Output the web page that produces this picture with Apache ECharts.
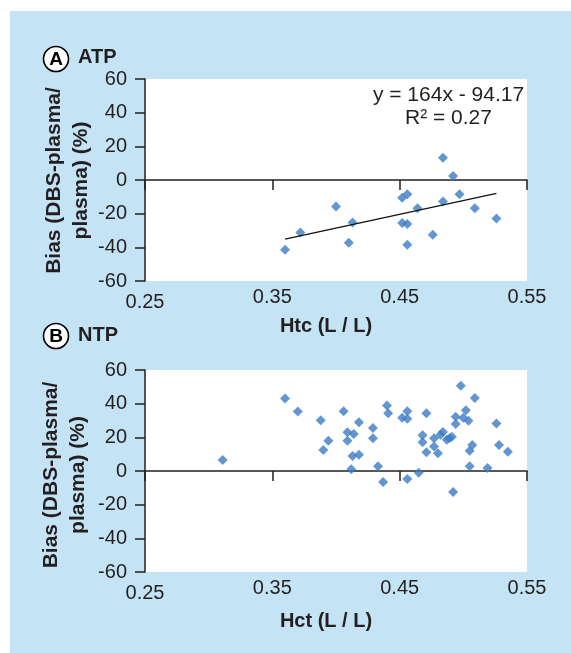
<!DOCTYPE html>
<html>
<head>
<meta charset="utf-8">
<script src="https://cdn.jsdelivr.net/npm/echarts@6/dist/echarts.min.js"></script>
<style>
html,body{margin:0;padding:0;background:#fff;}
#c{width:571px;height:653px;}
</style>
</head>
<body>
<div id="c"></div>
<script>
// Panel A: ATP
var atpHct = [0.360,0.372,0.400,0.413,0.410,0.452,0.456,0.452,0.456,0.456,0.464,0.476,0.484,0.484,0.492,0.497,0.509,0.526];
var atpBias = [-41.4,-31.2,-15.8,-25.2,-37.3,-10.5,-8.5,-25.6,-26.2,-38.5,-16.8,-32.5,13.2,-12.8,2.4,-8.5,-16.8,-22.9];
var trendSlope = 164, trendIntercept = -94.17;
var eqText = 'y = 164x - 94.17';
var r2Text = 'R\u00b2 = 0.27';

// Panel B: NTP
var ntpHct = [0.311,0.360,0.370,0.388,0.390,0.394,0.406,0.409,0.409,0.414,0.418,0.413,0.418,0.412,0.429,0.429,0.433,0.437,0.440,0.441,0.452,0.456,0.456,0.456,0.465,0.468,0.468,0.471,0.471,0.477,0.477,0.480,0.482,0.484,0.487,0.489,0.491,0.492,0.494,0.494,0.498,0.500,0.502,0.504,0.505,0.507,0.505,0.509,0.519,0.526,0.528,0.535];
var ntpBias = [6.5,43.1,35.3,30.2,12.5,17.9,35.5,23.0,17.9,22.0,29.0,8.9,9.7,1.0,25.6,19.4,2.8,-6.5,38.9,34.3,31.7,35.5,31.0,-4.8,-1.0,21.2,17.1,34.3,11.1,19.4,14.5,10.5,21.6,23.2,18.5,19.4,20.4,-12.5,32.3,27.9,50.6,31.7,36.1,29.8,12.1,15.5,2.8,43.3,1.8,28.2,15.5,11.5];

var xTicks = [0.25,0.35,0.45,0.55];
var yTicks = [-60,-40,-20,0,20,40,60];

var FONT = '"Liberation Sans", Arial, Helvetica, sans-serif';
var TXT = '#231f20';
var BLUE = '#c4e4f5';
var MARK = '#3c7cc6';

function zip(a,b){ return a.map(function(v,i){ return [v,b[i]]; }); }
var trendX = [Math.min.apply(null, atpHct), Math.max.apply(null, atpHct)];
var trendData = trendX.map(function(x){ return [x, trendSlope*x + trendIntercept]; });

function lineAxis(grid, yIdx){
  return {
    type:'value', gridIndex:grid, position:'bottom',
    min:xTicks[0], max:xTicks[xTicks.length-1], interval:0.1,
    axisLine:{show:true, onZero:true, onZeroAxisIndex:yIdx, lineStyle:{color:TXT, width:1.5}},
    axisTick:{show:true, length:10, lineStyle:{color:TXT, width:1.5}},
    axisLabel:{show:false}, splitLine:{show:false}
  };
}
function labelAxis(grid){
  return {
    type:'value', gridIndex:grid, position:'bottom',
    min:xTicks[0], max:xTicks[xTicks.length-1], interval:0.1,
    axisLine:{show:false, onZero:false}, axisTick:{show:false}, splitLine:{show:false},
    axisLabel:{show:true, margin:6, color:TXT, fontFamily:FONT, fontSize:20,
      formatter:function(v){ var s = v.toFixed(2); return Math.abs(v - xTicks[0]) < 1e-6 ? '{lo|' + s + '}' : s; },
      rich:{lo:{color:TXT, fontFamily:FONT, fontSize:20, padding:[5,0,0,0]}}}
  };
}
function yAx(grid){
  return {
    type:'value', gridIndex:grid, min:yTicks[0], max:yTicks[yTicks.length-1], interval:20,
    axisLine:{show:true, onZero:false, lineStyle:{color:TXT, width:1.5}},
    axisTick:{show:true, length:10, lineStyle:{color:TXT, width:1.5}},
    axisLabel:{margin:18, color:TXT, fontFamily:FONT, fontSize:20},
    splitLine:{show:false}
  };
}

function txt(x,y,t,size,weight,extra){
  var o = {type:'text', x:x, y:y, z:10,
    style:{text:t, fill:TXT, font:(weight||'normal')+' '+size+'px '+FONT, textAlign:'center', textVerticalAlign:'middle'}};
  if(extra){ for(var k in extra){ if(k==='style'){ for(var s in extra.style) o.style[s]=extra.style[s]; } else o[k]=extra[k]; } }
  return o;
}
function circ(x,y,letter){
  return [
    {type:'circle', shape:{cx:x, cy:y, r:12.5}, style:{fill:'#fff', stroke:'#000', lineWidth:1.6}, z:10},
    txt(x, y+0.5, letter, 19, 'bold', {style:{fill:'#000'}})
  ];
}

var chart = echarts.init(document.getElementById('c'), null, {renderer:'canvas'});
var graphics = [
  {type:'rect', shape:{x:0,y:0,width:571,height:11}, style:{fill:'#fff'}, z:1},
  {type:'rect', shape:{x:0,y:0,width:10,height:653}, style:{fill:'#fff'}, z:1}
].concat(circ(56,59,'A')).concat(circ(56,336,'B')).concat([
  txt(78,57,'ATP',20,'bold',{style:{textAlign:'left'}}),
  txt(78,335,'NTP',20,'bold',{style:{textAlign:'left'}}),
  txt(448.5,95,eqText,21),
  txt(448.5,118,r2Text,21),
  txt(326,326,'Htc (L / L)',20,'bold'),
  txt(326,621,'Hct (L / L)',20,'bold'),
  txt(68,180.5,'Bias (DBS-plasma/\nplasma) (%)',21,'bold',{rotation:Math.PI/2, style:{lineHeight:27}}),
  txt(65,475,'Bias (DBS-plasma/\nplasma) (%)',21,'bold',{rotation:Math.PI/2, style:{lineHeight:27}})
]);

chart.setOption({
  backgroundColor: BLUE,
  animation:false,
  grid:[
    {left:145, top:79, width:382, height:202, show:true, backgroundColor:'#fff', borderWidth:0},
    {left:145, top:370, width:382, height:202, show:true, backgroundColor:'#fff', borderWidth:0}
  ],
  xAxis:[lineAxis(0,0), labelAxis(0), lineAxis(1,1), labelAxis(1)],
  yAxis:[yAx(0), yAx(1)],
  series:[
    {type:'scatter', xAxisIndex:0, yAxisIndex:0, data:zip(atpHct, atpBias), symbol:'diamond', symbolSize:10,
      itemStyle:{color:MARK}, z:3},
    {type:'line', xAxisIndex:0, yAxisIndex:0, data:trendData, symbol:'none', showSymbol:false,
      lineStyle:{color:'#111', width:1.3}, z:4},
    {type:'scatter', xAxisIndex:2, yAxisIndex:1, data:zip(ntpHct, ntpBias), symbol:'diamond', symbolSize:10,
      itemStyle:{color:MARK}, z:3}
  ],
  graphic: graphics
});
</script>
</body>
</html>
